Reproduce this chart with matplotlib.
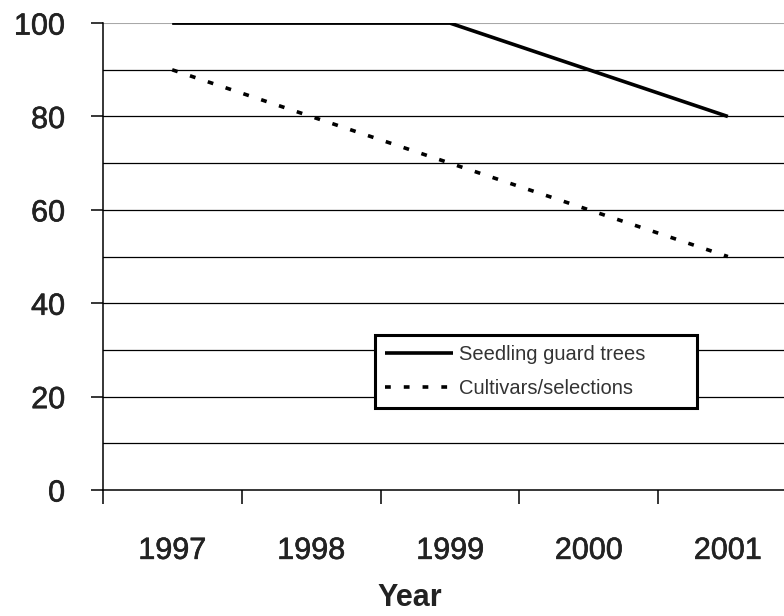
import matplotlib.pyplot as plt
import matplotlib.patheffects as pe
import numpy as np

plt.rcParams['font.family'] = ['Liberation Sans', 'DejaVu Sans']

years = ['1997', '1998', '1999', '2000', '2001']
seedling = [100, 100, 100, 90, 80]
cultivars = [90, 80, 70, 60, 50]

fig = plt.figure(figsize=(7.84, 6.16), dpi=100)
ax = fig.add_axes([0.131, 0.2045, 0.886, 0.758])

x = np.arange(len(years))

# horizontal grid every 10, top line lighter
for v in range(10, 100, 10):
    ax.axhline(v, color='black', lw=0.9, zorder=1)
ax.axhline(100, color='#a8a8a8', lw=1.5, zorder=1)

ax.plot(x, seedling, color='black', lw=2.6, solid_capstyle='butt',
        label='Seedling guard trees', zorder=3)
ax.plot(x, cultivars, color='black', lw=2.6, linestyle=(0, (1.6, 3.6)),
        dash_capstyle='butt', label='Cultivars/selections', zorder=3)

ax.set_xlim(-0.5, len(years) - 0.5)
ax.set_ylim(0, 100)

ax.spines['top'].set_visible(False)
ax.spines['right'].set_visible(False)
ax.spines['left'].set_linewidth(1.1)
ax.spines['bottom'].set_linewidth(1.1)

heavy = [pe.withStroke(linewidth=0.45, foreground='#222222')]

ax.set_yticks(range(0, 101, 20))
ax.tick_params(axis='y', length=9, width=1.1, pad=18, labelsize=22,
               labelcolor='#222222')

ax.set_xticks(x)
ax.set_xticklabels(years)
ax.set_xticks(np.arange(-0.5, len(years), 1.0), minor=True)
ax.tick_params(axis='x', which='major', length=0, pad=33, labelsize=22,
               labelcolor='#222222')
ax.tick_params(axis='x', which='minor', length=10, width=1.1)

for lab in ax.get_xticklabels() + ax.get_yticklabels():
    lab.set_path_effects(heavy)

fig.text(0.523, 0.029, 'Year', ha='center', va='center', fontsize=22,
         fontweight='bold', color='#222222')

leg = ax.legend(loc='upper left', bbox_to_anchor=(0.478, 0.334, 0.411, 0.122),
                bbox_transform=fig.transFigure, mode='expand', fontsize=14.5,
                frameon=True, fancybox=False, handlelength=3.4,
                handletextpad=0.3, borderpad=0.5, labelspacing=0.75,
                borderaxespad=0)
leg.get_frame().set_edgecolor('black')
leg.get_frame().set_linewidth(2.2)
leg.get_frame().set_alpha(1)
for t in leg.get_texts():
    t.set_color('#333333')

fig.savefig('out.png', dpi=100)
